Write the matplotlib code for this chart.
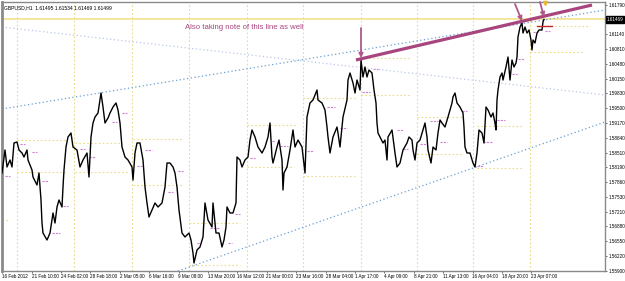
import matplotlib
matplotlib.use("Agg")
import matplotlib.pyplot as plt
import matplotlib.transforms as mtransforms

# GBPUSD H1 close prices (bar number from the left edge)
bars = [
    0, 6, 10, 16, 20, 24, 30, 34, 40, 44,
    50, 52, 60, 62, 70, 74, 78, 80, 82, 90,
    96, 102, 106, 110, 114, 120, 122, 124, 128, 132,
    138, 142, 150, 156, 162, 170, 174, 178, 182, 186,
    192, 198, 202, 206, 212, 216, 222, 228, 232, 236,
    240, 246, 252, 260, 262, 266, 270, 276, 282, 286,
    290, 294, 300, 306, 312, 320, 326, 330, 336, 342,
    346, 350, 354, 360, 366, 374, 378, 382, 384, 390,
    396, 402, 406, 412, 420, 422, 428, 434, 440, 444,
    448, 450, 456, 462, 468, 470, 476, 480, 486, 492,
    496, 500, 506, 512, 520, 526, 532, 536, 540, 542,
    550, 554, 560, 562, 564, 570, 576, 582, 586, 592,
    600, 606, 610, 616, 622, 630, 632, 640, 646, 650,
    652, 656, 662, 670, 672, 676, 680, 682, 690, 692,
    696, 702, 706, 710, 716, 718, 722, 726, 730, 734,
    740, 744, 748, 750, 752, 756, 762, 766, 770, 772,
    780, 786, 790, 796, 802, 810, 814, 820, 822, 826,
    830, 836, 842, 846, 850, 852, 858, 862, 868, 872,
    876, 880, 886, 892, 900, 902, 906, 910, 916, 922,
    924, 926, 930, 936, 942, 946, 950, 954, 960, 964,
    968, 972, 978, 982, 986, 988, 990, 992, 996, 1000,
    1002, 1008, 1012, 1016, 1020, 1024, 1028, 1030, 1032, 1036,
    1040, 1042, 1046, 1050, 1054, 1058, 1060, 1062, 1066, 1070,
    1074, 1080, 1082, 1084]

closes = [
    1.58066, 1.58576, 1.58199, 1.58354, 1.58199, 1.58731, 1.58753, 1.58576, 1.58509, 1.58420,
    1.58576, 1.58354, 1.58132, 1.57977, 1.57800, 1.58066, 1.57467, 1.56957, 1.56735, 1.56580,
    1.56735, 1.57179, 1.56957, 1.57312, 1.57467, 1.57312, 1.57755, 1.58132, 1.58642, 1.58864,
    1.58952, 1.58642, 1.58576, 1.58199, 1.58354, 1.58509, 1.57977, 1.58864, 1.59174, 1.59307,
    1.59396, 1.59839, 1.59529, 1.59174, 1.59285, 1.59396, 1.59529, 1.59618, 1.59462, 1.59174,
    1.58642, 1.58420, 1.58354, 1.58199, 1.57910, 1.58509, 1.58731, 1.58731, 1.58354, 1.57755,
    1.57401, 1.57090, 1.57245, 1.57401, 1.57312, 1.57401, 1.57755, 1.58287, 1.58287, 1.58199,
    1.58066, 1.57755, 1.57245, 1.56735, 1.56647, 1.56735, 1.56580, 1.56292, 1.56070, 1.56359,
    1.56425, 1.56647, 1.57401, 1.57024, 1.56868, 1.57401, 1.56735, 1.56735, 1.56425, 1.56580,
    1.56868, 1.57312, 1.57179, 1.57179, 1.57401, 1.58420, 1.58354, 1.58199, 1.58354, 1.58420,
    1.58797, 1.59019, 1.58864, 1.58642, 1.58509, 1.58642, 1.58864, 1.59174, 1.58420, 1.58287,
    1.58642, 1.58797, 1.58354, 1.57689, 1.58066, 1.58199, 1.58576, 1.59019, 1.58642, 1.58797,
    1.58642, 1.58066, 1.59307, 1.59618, 1.59684, 1.59906, 1.59684, 1.59618, 1.59462, 1.59085,
    1.58864, 1.58509, 1.58864, 1.59085, 1.58952, 1.58642, 1.59085, 1.59307, 1.59684, 1.60127,
    1.60283, 1.60061, 1.59839, 1.60127, 1.59906, 1.60571, 1.60194, 1.60416, 1.60194, 1.60349,
    1.60283, 1.59906, 1.59618, 1.59174, 1.58952, 1.58864, 1.58731, 1.58797, 1.58354, 1.58864,
    1.59019, 1.58509, 1.58199, 1.58287, 1.58576, 1.58731, 1.58864, 1.58797, 1.58576, 1.58354,
    1.58731, 1.58797, 1.59019, 1.59174, 1.58864, 1.58576, 1.58287, 1.58642, 1.58576, 1.58952,
    1.59241, 1.59174, 1.59085, 1.59307, 1.59618, 1.59751, 1.59839, 1.59618, 1.59529, 1.59396,
    1.59085, 1.58642, 1.58509, 1.58509, 1.58287, 1.58199, 1.58509, 1.59019, 1.58952, 1.58731,
    1.59529, 1.59462, 1.59307, 1.59396, 1.59174, 1.59019, 1.59684, 1.59906, 1.60194, 1.60283,
    1.60127, 1.60416, 1.60637, 1.60127, 1.60571, 1.60416, 1.60504, 1.60637, 1.61081, 1.61302,
    1.61391, 1.61169, 1.61302, 1.61169, 1.61236, 1.61014, 1.60793, 1.61014, 1.60948, 1.61169,
    1.61236, 1.61236, 1.61420, 1.61469]

# week separators (bar numbers)
week_starts = [30, 144, 260, 374, 490, 602, 718, 830, 942, 1056]

# previous-week high / low levels: start bar, end bar, price
week_levels = [
    (0, 16, 1.57024),
    (30, 128, 1.58797), (30, 128, 1.58088),
    (146, 236, 1.58731), (146, 252, 1.58088),
    (262, 362, 1.58819), (262, 362, 1.57800),
    (374, 476, 1.56957), (374, 476, 1.56026),
    (490, 590, 1.59130), (490, 584, 1.58199),
    (602, 706, 1.59728), (602, 706, 1.57999),
    (718, 816, 1.60615), (718, 816, 1.59795),
    (830, 920, 1.59307), (830, 920, 1.58487),
    (950, 1042, 1.59108), (950, 1042, 1.58176),
    (1056, 1160, 1.60748), (1082, 1176, 1.61325)]

# short daily pivot marks: start bar, end bar, price
pivots = [
    (6, 16, 1.57999), (36, 46, 1.58709), (60, 70, 1.58531), (80, 92, 1.57888),
    (100, 116, 1.56735), (122, 132, 1.57334), (156, 166, 1.58598), (174, 186, 1.58420),
    (220, 230, 1.59196), (240, 250, 1.59396), (270, 280, 1.58221), (286, 300, 1.58576),
    (332, 342, 1.57644), (352, 362, 1.58110), (390, 396, 1.56514), (416, 436, 1.56846),
    (452, 460, 1.56514), (466, 476, 1.57157), (496, 506, 1.58398), (540, 546, 1.58775),
    (556, 572, 1.58664), (610, 622, 1.58553), (650, 666, 1.59529), (676, 690, 1.59063),
    (720, 736, 1.59861), (742, 756, 1.60371), (790, 802, 1.59019), (802, 812, 1.58598),
    (836, 850, 1.58709), (856, 872, 1.59218), (876, 890, 1.58753), (920, 930, 1.59440),
    (950, 962, 1.58221), (962, 982, 1.58753), (990, 1006, 1.59241), (1020, 1030, 1.60260),
    (1032, 1044, 1.60593), (1062, 1072, 1.61192), (1086, 1096, 1.61214)]

# trendlines: (bar, price) end points
upper_line = [(0, 1.59485), (1206, 1.61679)]
falling_line = [(0, 1.61302), (1206, 1.59795)]
lower_line = [(352, 1.55893), (1206, 1.59196)]
note_line = [(708, 1.60571), (1180, 1.61790)]

# arrows: tail (bar, price), tip (bar, price)
arrows = [((718, 1.61280), (718, 1.60615)),
          ((1026, 1.61812), (1040, 1.61435)),
          ((1076, 1.61857), (1084, 1.61524))]

red_level = (1070, 1100, 1.61325)
bid = 1.61469

x_ticks = [0, 59, 118, 176, 235, 294, 353, 412, 470, 529,
           588, 647, 706, 764, 823, 882, 941, 1000, 1058]
x_labels = ["16 Feb 2012", "21 Feb 10:00", "24 Feb 02:00", "28 Feb 18:00",
            "2 Mar 05:00", "6 Mar 16:00", "9 Mar 08:00", "13 Mar 20:00",
            "16 Mar 12:00", "21 Mar 00:00", "23 Mar 16:00", "28 Mar 04:00",
            "1 Apr 17:00", "4 Apr 09:00", "8 Apr 21:00", "11 Apr 13:00",
            "16 Apr 04:00", "18 Apr 20:00", "23 Apr 07:00"]
y_ticks = [1.61790, 1.61140, 1.60810, 1.60480, 1.60150, 1.59830, 1.59500,
           1.59170, 1.58840, 1.58510, 1.58190, 1.57860, 1.57530, 1.57210,
           1.56880, 1.56550, 1.56220, 1.55900]

plt.rcParams['font.family'] = ['Liberation Sans', 'DejaVu Sans']

fig = plt.figure(figsize=(6.25, 2.81), dpi=100)
ax = fig.add_axes([0.0032, 0.0356, 0.9648, 0.9573])
ax.set_xlim(0, 1206)
ax.set_ylim(1.55893, 1.61857)

yellow = '#ecdc8a'
purple = '#cf7fd6'
blue = '#6b9fd3'
magenta = '#a8457f'

# week separators
for b in week_starts:
    ax.axvline(b, color=yellow, lw=0.8, ls=(0, (1.5, 2)), zorder=1)

# week high / low levels
for b0, b1, p in week_levels:
    ax.plot([b0, b1], [p, p], color=yellow, lw=0.8, ls=(0, (1.5, 2)), zorder=1)

# pivots
for b0, b1, p in pivots:
    ax.plot([b0, b1], [p, p], color=purple, lw=0.8, ls=(0, (2, 1)), zorder=2)

# current bid line
ax.axhline(bid, color='#f5e28a', lw=1.2, zorder=1)

# trendlines
for line, col in [(upper_line, blue), (falling_line, '#bcc8e8'), (lower_line, blue)]:
    ax.plot([line[0][0], line[1][0]], [line[0][1], line[1][1]],
            color=col, lw=0.9, ls=(0, (1, 2)), zorder=2)

# price
ax.plot(bars, closes, color='black', lw=1.0, zorder=3)

# red level
ax.plot([red_level[0], red_level[1]], [red_level[2], red_level[2]],
        color='#c0282a', lw=1.0, zorder=3)

# the thick trendline and note
ax.plot([note_line[0][0], note_line[1][0]], [note_line[0][1], note_line[1][1]],
        color=magenta, lw=2.3, solid_capstyle='butt', zorder=4)
for tail, tip in arrows:
    ax.annotate('', xy=tip, xytext=tail,
                arrowprops=dict(arrowstyle='-|>', color='#b0588c', lw=1.3,
                                mutation_scale=6, shrinkA=0, shrinkB=0),
                zorder=5, annotation_clip=False)
ax.text(366, 1.61300, 'Also taking note of this line as well', color=magenta,
        fontsize=5.6, va='center', ha='left', zorder=5)

# small marker on top
ax.plot([1086], [1.61830], marker='v', color='#e8b830', ms=3, clip_on=False, zorder=5)

# header
ax.text(0.004, 0.988, 'GBPUSD,H1  1.61495 1.61534 1.61469 1.61499',
        transform=ax.transAxes, fontsize=3.6, va='top', ha='left', color='black')

# axes styling
for s in ax.spines.values():
    s.set_color('#8a8a8a')
    s.set_linewidth(1.0)
ax.spines['left'].set_linewidth(2.0)

ax.yaxis.tick_right()
ax.set_yticks(y_ticks)
ax.set_yticklabels(['%.5f' % v for v in y_ticks])
ax.set_xticks(x_ticks)
ax.set_xticklabels(x_labels, ha='left')
ax.tick_params(axis='both', labelsize=3.3, length=1.5, width=0.6, color='#555555',
               pad=0.8, direction='out')

# bid price box on the right axis
trans = mtransforms.blended_transform_factory(ax.transAxes, ax.transData)
ax.text(1.003, bid, '%.5f' % bid, transform=trans, fontsize=3.3, color='white',
        va='center', ha='left',
        bbox=dict(boxstyle='square,pad=0.15', fc='black', ec='black'),
        clip_on=False, zorder=6)

fig.savefig('out.png', dpi=100, facecolor='white')
